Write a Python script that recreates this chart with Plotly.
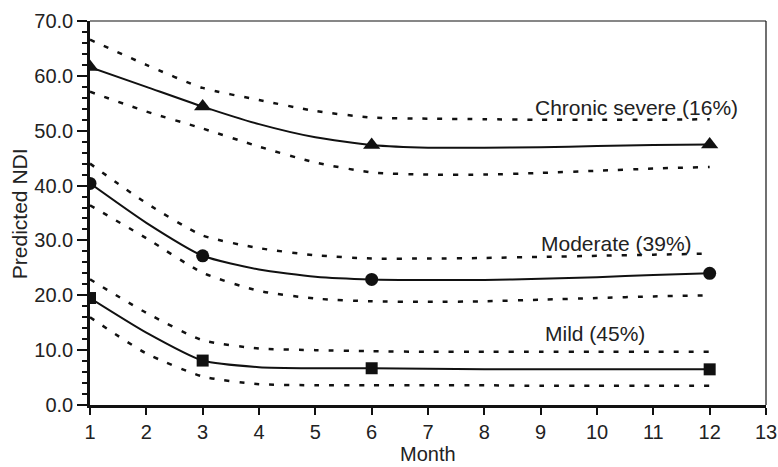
import plotly.graph_objects as go

months = [1, 2, 3, 4, 5, 6, 7, 8, 9, 10, 11, 12]
marker_months = [1, 3, 6, 12]

severe = [61.6, 58.0, 54.4, 51.2, 48.8, 47.4, 46.9, 46.9, 47.0, 47.2, 47.4, 47.5]
severe_hi = [66.6, 62.0, 57.8, 55.6, 53.6, 52.4, 52.2, 52.1, 52.0, 52.0, 52.0, 52.1]
severe_lo = [57.1, 53.5, 50.4, 47.1, 44.2, 42.4, 42.0, 42.0, 42.3, 42.7, 43.1, 43.4]

moderate = [40.4, 33.2, 27.2, 24.7, 23.4, 22.9, 22.8, 22.8, 23.0, 23.3, 23.7, 24.0]
moderate_hi = [44.0, 36.8, 30.9, 28.6, 27.3, 26.7, 26.7, 26.8, 27.0, 27.2, 27.4, 27.6]
moderate_lo = [36.4, 30.4, 24.1, 20.8, 19.4, 18.9, 18.8, 18.9, 19.2, 19.5, 19.8, 20.0]

mild = [19.5, 13.2, 8.1, 6.9, 6.7, 6.7, 6.6, 6.5, 6.5, 6.5, 6.5, 6.5]
mild_hi = [22.9, 16.8, 11.8, 10.3, 10.0, 9.8, 9.7, 9.7, 9.7, 9.7, 9.7, 9.7]
mild_lo = [16.0, 9.4, 5.2, 3.8, 3.6, 3.6, 3.6, 3.6, 3.5, 3.5, 3.5, 3.5]

labels = ["Chronic severe (16%)", "Moderate (39%)", "Mild (45%)"]
label_x = [10.7, 10.35, 9.97]
label_y = [54.3, 29.4, 13.0]

x_ticks = list(range(1, 14))
y_ticks = [0, 10, 20, 30, 40, 50, 60, 70]

INK = "#111111"
TXT = "#222222"
FONT = "Liberation Sans, Arial, sans-serif"

fig = go.Figure()

groups = [
    (severe, severe_hi, severe_lo, "triangle-up", 15),
    (moderate, moderate_hi, moderate_lo, "circle", 13),
    (mild, mild_hi, mild_lo, "square", 12),
]

for mean, hi, lo, sym, msize in groups:
    for band in (hi, lo):
        fig.add_trace(go.Scatter(
            x=months, y=band, mode="lines",
            line=dict(color=INK, width=2.5, dash="5px,10px", shape="spline", smoothing=0.6),
            showlegend=False, hoverinfo="skip"))
    fig.add_trace(go.Scatter(
        x=months, y=mean, mode="lines",
        line=dict(color=INK, width=2, shape="spline", smoothing=0.6),
        showlegend=False))
    fig.add_trace(go.Scatter(
        x=marker_months, y=[mean[m - 1] for m in marker_months], mode="markers",
        marker=dict(symbol=sym, size=msize, color=INK),
        showlegend=False))

for t, xx, yy in zip(labels, label_x, label_y):
    fig.add_annotation(x=xx, y=yy, text=t, showarrow=False,
                       font=dict(family=FONT, size=21, color=TXT))

# axis titles
fig.add_annotation(xref="paper", yref="paper", x=-0.105, y=0.497, xanchor="center",
                   yanchor="middle", text="Predicted NDI", textangle=-90, showarrow=False,
                   font=dict(family=FONT, size=21, color=TXT))
fig.add_annotation(xref="paper", yref="paper", x=0.5, y=-0.128, xanchor="center",
                   yanchor="middle", text="Month", showarrow=False,
                   font=dict(family=FONT, size=20, color=TXT))

# top and right frame lines (thin)
fig.add_shape(type="line", xref="paper", yref="paper", x0=0, x1=1, y0=1, y1=1,
              line=dict(color=INK, width=1.2))
fig.add_shape(type="line", xref="paper", yref="paper", x0=1, x1=1, y0=0, y1=1,
              line=dict(color=INK, width=1.2))

fig.update_layout(
    width=778, height=467,
    margin=dict(l=90, r=12, t=21, b=62),
    plot_bgcolor="white", paper_bgcolor="white",
    font=dict(family=FONT, size=19, color=TXT),
    xaxis=dict(range=[1, 13], tickvals=x_ticks, ticks="outside", ticklen=7, tickwidth=1.5,
               tickcolor=INK, showline=True, linecolor=INK, linewidth=2.5,
               showgrid=False, zeroline=False, automargin=False,
               ticklabelstandoff=0, tickfont=dict(size=20)),
    yaxis=dict(range=[0, 70], tickvals=y_ticks, tickformat=".1f", ticks="outside",
               ticklen=10, tickwidth=1.5, tickcolor=INK, showline=True, linecolor=INK,
               linewidth=2.5, showgrid=False, zeroline=False, automargin=False,
               tickfont=dict(size=20),
               minor=dict(dtick=2, ticks="outside", ticklen=5, tickwidth=1.5, tickcolor=INK,
                          showgrid=False)),
)

fig.write_html("out.html")
